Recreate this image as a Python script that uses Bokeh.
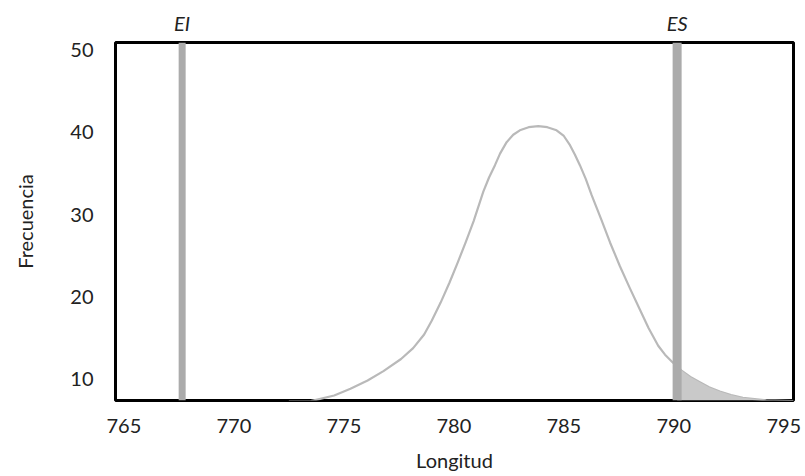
from bokeh.plotting import figure
from bokeh.models import Range1d, FixedTicker, LinearAxis, Span
from bokeh.embed import file_html
from bokeh.resources import INLINE
import numpy as np

# ---- data ----
x_ticks = [765, 770, 775, 780, 785, 790, 795]
y_ticks = [10, 20, 30, 40, 50]
limit_names = ["EI", "ES"]
limit_values = [767.65, 790.15]

curve_x = [772.5, 773.5, 774.56, 775.3, 776.08, 776.8, 777.6, 778.15, 778.65, 779.0,
           779.4, 779.8, 780.17, 780.55, 780.9, 781.34, 781.6, 781.87, 782.1, 782.4,
           782.7, 783.0, 783.4, 783.84, 784.25, 784.67, 785.0, 785.28, 785.5, 785.73,
           786.0, 786.26, 786.48, 786.7, 787.1, 787.55, 788.0, 788.45, 788.85, 789.29,
           789.6, 789.94, 790.35, 790.75, 791.18, 791.6, 792.09, 792.6, 793.14, 794.2,
           795.44]
curve_y = [7.27, 7.3, 7.99, 8.8, 9.81, 10.95, 12.43, 13.75, 15.4, 17.1,
           19.29, 21.7, 24.12, 26.7, 29.2, 32.78, 34.5, 36.0, 37.4, 38.8,
           39.7, 40.24, 40.62, 40.75, 40.62, 40.24, 39.55, 38.43, 37.3, 36.0,
           34.3, 32.38, 30.9, 29.4, 26.6, 23.71, 21.05, 18.48, 16.2, 14.04,
           12.95, 12.03, 11.02, 10.25, 9.61, 9.0, 8.48, 8.05, 7.71, 7.4,
           7.3]

FONT = "Lato"
TXT = "#222222"

p = figure(width=803, height=474, output_backend="svg", toolbar_location=None,
           x_range=Range1d(764.62, 795.44), y_range=Range1d(7.38, 50.92),
           min_border_left=115, min_border_right=10, min_border_top=42,
           min_border_bottom=72, background_fill_color="white",
           border_fill_color="white")

p.xgrid.visible = False
p.ygrid.visible = False
p.outline_line_color = "black"
p.outline_line_width = 3
p.outline_line_alpha = 1.0

# curve
p.line(curve_x, curve_y, line_color="#b9b9b9", line_width=2.2, line_join="round")

# shaded tail beyond ES
cx = np.array(curve_x)
cy = np.array(curve_y)
es = limit_values[1]
mask = cx > es
tail_x = np.concatenate([[es], cx[mask]])
tail_y = np.concatenate([[np.interp(es, cx, cy)], cy[mask]])
p.varea(x=tail_x, y1=p.y_range.start, y2=tail_y, fill_color="#c9c9c9")

# specification limits
for v, w in zip(limit_values, [7, 9]):
    p.add_layout(Span(location=v, dimension="height", line_color="#ababab",
                      line_width=w, level="overlay"))

def style_axis(ax, standoff):
    ax.axis_line_color = None
    ax.major_tick_line_color = None
    ax.minor_tick_line_color = None
    ax.major_tick_out = 0
    ax.major_tick_in = 0
    ax.minor_tick_out = 0
    ax.minor_tick_in = 0
    ax.major_label_standoff = standoff
    ax.major_label_text_font = FONT
    ax.major_label_text_font_size = "20px"
    ax.major_label_text_color = TXT
    ax.axis_label_text_font = FONT
    ax.axis_label_text_font_size = "20px"
    ax.axis_label_text_font_style = "normal"
    ax.axis_label_text_color = TXT

p.xaxis.ticker = FixedTicker(ticks=x_ticks)
p.yaxis.ticker = FixedTicker(ticks=y_ticks)
p.xaxis.axis_label = "Longitud"
p.yaxis.axis_label = "Frecuencia"
style_axis(p.xaxis[0], 18)
style_axis(p.yaxis[0], 22)
p.xaxis.axis_label_standoff = 12
p.yaxis.axis_label_standoff = 30

top = LinearAxis(ticker=FixedTicker(ticks=limit_values),
                 major_label_overrides={v: n for v, n in zip(limit_values, limit_names)})
style_axis(top, 8)
top.major_label_text_font_style = "italic"
p.add_layout(top, "above")

open("out.html", "w").write(file_html(p, INLINE))
